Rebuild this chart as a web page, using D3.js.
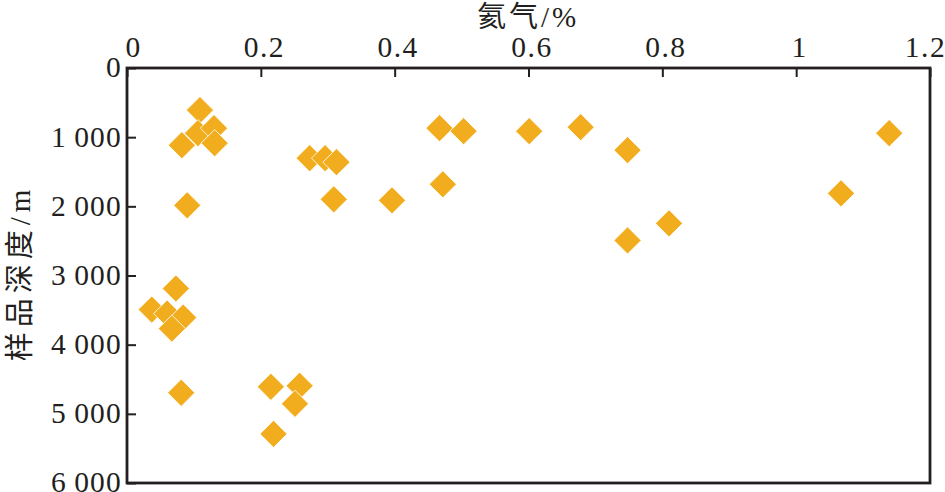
<!DOCTYPE html>
<html>
<head>
<meta charset="utf-8">
<script src="https://cdn.jsdelivr.net/npm/d3@7"></script>
<style>
  body { margin: 0; background: #fff; }
  svg { display: block; }
</style>
</head>
<body>
<div id="chart"></div>
<script>
// helium content (%) and sample depth (m)
const helium = [0.109, 0.106, 0.130, 0.131, 0.082, 0.090, 0.273, 0.296, 0.313, 0.309,
  0.396, 0.467, 0.503, 0.472, 0.601, 0.678, 0.748, 1.139, 1.067, 0.810,
  0.748, 0.073, 0.037, 0.060, 0.084, 0.067, 0.081, 0.215, 0.258, 0.251, 0.219];
const depth = [609, 942, 870, 1087, 1116, 1986, 1304, 1304, 1362, 1899,
  1913, 870, 913, 1681, 913, 855, 1188, 942, 1812, 2246,
  2493, 3188, 3493, 3551, 3609, 3768, 4696, 4609, 4594, 4855, 5290];
const xTicks = [0, 0.2, 0.4, 0.6, 0.8, 1, 1.2];
const yTicks = [0, 1000, 2000, 3000, 4000, 5000, 6000];
const xTitle = "氦气/%";
const yTitle = "样品深度/m";

const width = 945, height = 492;
const plotLeft = 127, plotRight = 930, plotTop = 68, plotBottom = 483;
const ink = "#231f20";
const numFont = "'Liberation Serif', 'Times New Roman', serif";
const cjkFont = "'Liberation Serif', 'Noto Sans CJK SC', serif";

const svg = d3.select("#chart").append("svg")
  .attr("width", width)
  .attr("height", height);

const x = d3.scaleLinear().domain([0, 1.2]).range([plotLeft, plotRight]);
const y = d3.scaleLinear().domain([0, 6000]).range([plotTop, plotBottom]);

// thousands with a space, as in the figure ("1 000")
const fmtDepth = d => d === 0 ? "0" : d3.format(",")(d).replace(",", "\u2009");

// top axis
const xAxis = d3.axisTop(x)
  .tickValues(xTicks)
  .tickFormat(d => d3.format("")(d))
  .tickSizeInner(-9)
  .tickSizeOuter(0)
  .tickPadding(11);

svg.append("g")
  .attr("transform", "translate(0," + plotTop + ")")
  .call(xAxis)
  .call(g => g.select(".domain").remove())
  .call(g => g.selectAll("line").attr("stroke", ink).attr("stroke-width", 2))
  .call(g => g.selectAll("text")
    .attr("fill", ink)
    .style("font-family", numFont)
    .style("font-size", "29.5px")
    .style("letter-spacing", "1.5px")
    .attr("dx", (d, i) => i === 0 ? 6 : (i === xTicks.length - 1 ? -5 : 3)));

// left axis
const yAxis = d3.axisLeft(y)
  .tickValues(yTicks)
  .tickFormat(fmtDepth)
  .tickSizeInner(-9)
  .tickSizeOuter(0)
  .tickPadding(5);

svg.append("g")
  .attr("transform", "translate(" + plotLeft + ",0)")
  .call(yAxis)
  .call(g => g.select(".domain").remove())
  .call(g => g.selectAll("line").attr("stroke", ink).attr("stroke-width", 2))
  .call(g => g.selectAll("text")
    .attr("fill", ink)
    .attr("dy", "0.3em")
    .style("font-family", numFont)
    .style("font-size", "29.5px")
    .style("letter-spacing", "1.2px"));

// frame
svg.append("rect")
  .attr("x", plotLeft)
  .attr("y", plotTop)
  .attr("width", plotRight - plotLeft)
  .attr("height", plotBottom - plotTop)
  .attr("fill", "none")
  .attr("stroke", ink)
  .attr("stroke-width", 2.8);

// points (rotated squares)
const diamond = d3.symbol(d3.symbolSquare, 370);
svg.append("g")
  .selectAll("path")
  .data(d3.range(helium.length))
  .enter()
  .append("path")
    .attr("d", diamond)
    .attr("transform", i => "translate(" + x(helium[i]) + "," + y(depth[i]) + ") rotate(45)")
    .attr("fill", "#f1ad1d")
    .attr("stroke", "#fff")
    .attr("stroke-width", 0.8);

// titles
svg.append("text")
  .attr("x", 528)
  .attr("y", 27)
  .attr("text-anchor", "middle")
  .attr("fill", ink)
  .style("font-family", cjkFont)
  .style("font-size", "29px")
  .style("letter-spacing", "3px")
  .text(xTitle);

svg.append("text")
  .attr("transform", "translate(30,273) rotate(-90)")
  .attr("text-anchor", "middle")
  .attr("fill", ink)
  .style("font-family", cjkFont)
  .style("font-size", "29px")
  .style("letter-spacing", "5px")
  .text(yTitle);
</script>
</body>
</html>
